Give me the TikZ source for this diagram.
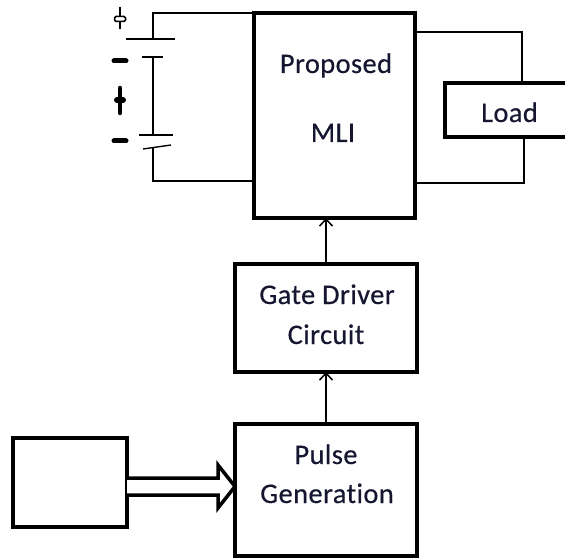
\documentclass[tikz,border=0pt]{standalone}
\usepackage{fontspec}
\setmainfont{Carlito}[Ligatures=NoCommon,LetterSpace=1.5,FakeBold=0.4]
\usetikzlibrary{arrows.meta}
\definecolor{txt}{HTML}{161630}
\begin{document}
\begin{tikzpicture}[x=1bp,y=-1bp,
  blk/.style={draw=black,line width=4bp,fill=white,inner sep=0pt,outer sep=0pt,anchor=north west},
  wire/.style={draw=black,line width=1.4bp},
  lbl/.style={anchor=base,font=\fontsize{28.5}{32}\selectfont,text=txt,inner sep=0pt},
  sig/.style={line width=1.5bp,-{Straight Barb[length=7bp,width=13bp]}},
  hollow/.style={draw=black,line width=3.5bp,fill=white,line join=miter},
  signbar/.style={line width=5bp,line cap=round}]
\useasboundingbox (0,0) rectangle (565,560);
\clip (0,0) rectangle (565,560);
% blocks
\node[blk,minimum width=161bp,minimum height=205bp] (mli) at (254,13) {};
\node[blk,minimum width=182bp,minimum height=108bp] (gate) at (235,264) {};
\node[blk,minimum width=182bp,minimum height=132bp] (pulse) at (235,424) {};
\node[blk,minimum width=114bp,minimum height=89bp] (src) at (13,438) {};
\node[blk,minimum width=140bp,minimum height=54bp] (load) at (445,83) {};
% labels
\node[lbl] (t1) at (336,73) {Proposed};
\node[lbl] (t2) at (333,142) {MLI};
\node[lbl] (t3) at (327,304) {Gate Driver};
\node[lbl] (t4) at (326,344) {Circuit};
\node[lbl] (t5) at (326,464) {Pulse};
\node[lbl] (t6) at (327,503) {Generation};
\node[lbl] (t7) at (509.5,122) {Load};
% battery
\coordinate (bx) at (153,39);
\coordinate (b2) at (153,57);
\coordinate (b3) at (153,135);
\coordinate (b4) at (153,147);
\coordinate (b5) at (153,181);
\draw[wire] (mli.north west) -- (bx |- mli.north west) -- (bx);
\draw[wire] (126,39) -- (175,39);
\draw[wire] (142,57) -- (163,57);
\draw[wire] (b2) -- (b3);
\draw[wire] (139,135) -- (173,135);
\draw[wire] (143,149) -- (171,145);
\draw[wire] (b4) -- (b5) -- (mli.west |- b5);
% signs
\draw[line width=1.8bp] (120,7) -- (120,29);
\draw[line width=1.5bp,fill=white,rounded corners=1.5bp] (114.5,16.5) rectangle (125.5,21.5);
\draw[signbar] (114,61) -- (126,61);
\draw[line width=4.5bp,line cap=round] (120,88) -- (120,113);
\draw[line width=6bp,line cap=round] (117,100) -- (123,100);
\draw[signbar] (114,141) -- (126,141);
% load wires
\coordinate (rt) at (522,32);
\coordinate (rb) at (524,183);
\draw[wire] (mli.east |- rt) -- (rt) -- (rt |- load.north);
\draw[wire] (mli.east |- rb) -- (rb) -- (rb |- load.south);
% arrows
\draw[sig] (gate.north) -- (gate.north |- mli.south);
\draw[sig] (pulse.north) -- (pulse.north |- gate.south);
% hollow arrow
\draw[hollow] (src.east |- 0,478) -- (218,478) -- (218,465) -- (pulse.west |- 0,486.5) -- (218,508) -- (218,495) -- (src.east |- 0,495);
\end{tikzpicture}
\end{document}
